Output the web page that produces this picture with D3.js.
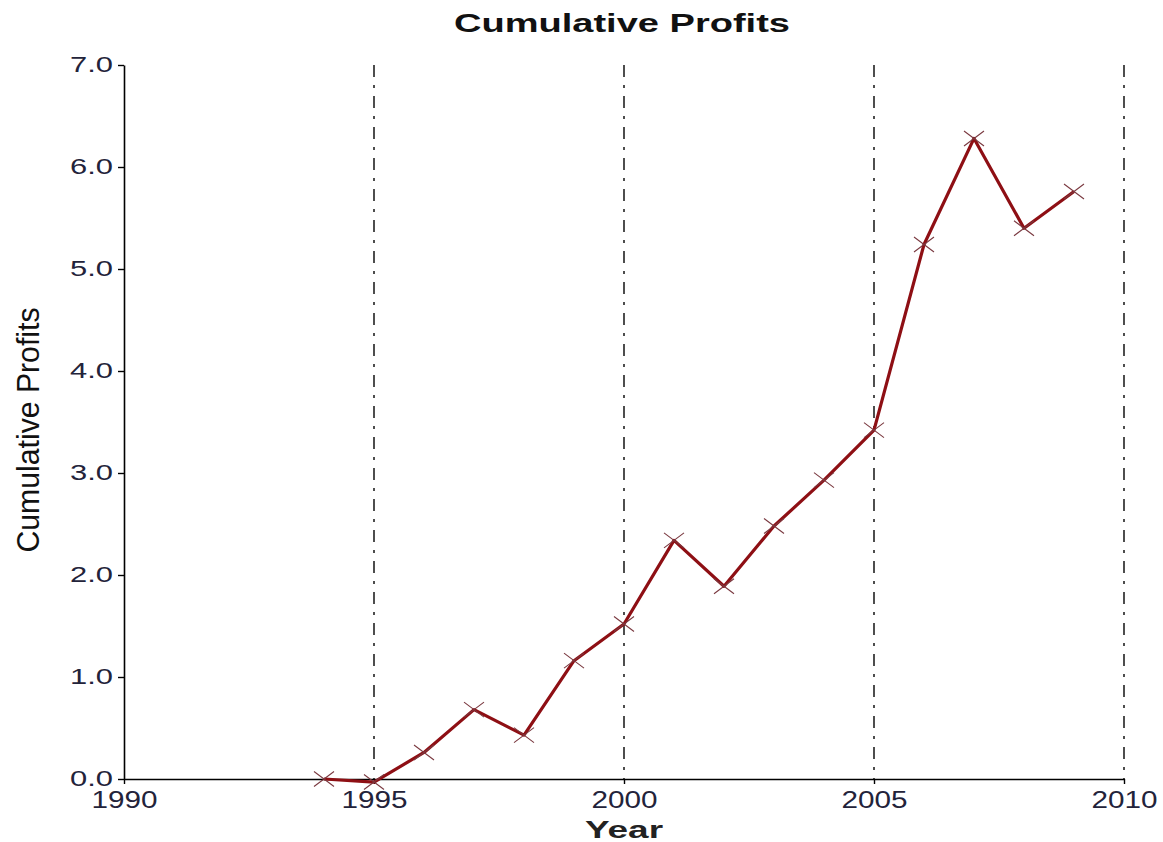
<!DOCTYPE html>
<html><head><meta charset="utf-8">
<script src="https://cdn.jsdelivr.net/npm/d3@7/dist/d3.min.js"></script>
<style>body{margin:0;background:#fff;} svg{display:block;}</style>
</head><body>
<svg id="c" width="1163" height="842"></svg>
<script>
const years = [1994,1995,1996,1997,1998,1999,2000,2001,2002,2003,2004,2005,2006,2007,2008,2009];
const profits = [0.0,-0.03,0.26,0.68,0.43,1.16,1.52,2.34,1.89,2.48,2.93,3.42,5.24,6.28,5.40,5.76];
const xTicks = [1990,1995,2000,2005,2010];
const yTicks = [0,1,2,3,4,5,6,7];
const refYears = [1995,2000,2005,2010];

const svg = d3.select('#c');
const x = d3.scaleLinear().domain([1990,2010]).range([124,1124]);
const y = d3.scaleLinear().domain([0,7]).range([779,65]);
const font = 'Arial, "Liberation Sans", Helvetica, sans-serif';

// reference lines
svg.append('g').selectAll('line').data(refYears).join('line')
  .attr('x1',d=>x(d)).attr('x2',d=>x(d)).attr('y1',y(7)).attr('y2',y(0))
  .attr('stroke','#222').attr('stroke-width',1.6).attr('stroke-dasharray','12,8,3,8');

// axes
const gy = svg.append('g').attr('transform',`translate(${x(1990)},0)`)
  .call(d3.axisLeft(y).tickValues(yTicks).tickFormat(d3.format('.1f')).tickSize(6).tickSizeOuter(0).tickPadding(6));
gy.select('.domain').attr('stroke','#000').attr('stroke-width',1.6);
gy.selectAll('.tick line').attr('stroke','#000').attr('stroke-width',1.4);
gy.selectAll('.tick text').attr('font-family',font).attr('font-size',22).attr('fill','#23233a')
  .attr('textLength',43).attr('lengthAdjust','spacingAndGlyphs').attr('dy','0.3em').attr('x',-11);

const gx = svg.append('g').attr('transform',`translate(0,${y(0)})`)
  .call(d3.axisBottom(x).tickValues(xTicks).tickFormat(d3.format('d')).tickSize(5).tickSizeOuter(0).tickPadding(6));
gx.select('.domain').attr('stroke','#000').attr('stroke-width',1.6);
gx.selectAll('.tick line').attr('stroke','#000').attr('stroke-width',1.4);
gx.selectAll('.tick text').attr('font-family',font).attr('font-size',23).attr('fill','#23233a')
  .attr('textLength',66).attr('lengthAdjust','spacingAndGlyphs').attr('dy','0.6em').attr('y',15);

// line
const line = d3.line().x((d,i)=>x(years[i])).y(d=>y(d));
svg.append('path').datum(profits).attr('d',line).attr('fill','none')
  .attr('stroke','#8e0f14').attr('stroke-width',3.2).attr('stroke-linejoin','round');

// markers (X)
const mk = svg.append('g');
profits.forEach((v,i)=>{
  const cx = x(years[i]), cy = y(v), hw = 10, hh = 7.5;
  mk.append('path').attr('d',`M${cx-hw},${cy-hh}L${cx+hw},${cy+hh}M${cx-hw},${cy+hh}L${cx+hw},${cy-hh}`)
    .attr('stroke','#7a3940').attr('stroke-width',1.1).attr('fill','none');
});

// titles
svg.append('text').attr('x',622).attr('y',32).attr('text-anchor','middle')
  .attr('font-family',font).attr('font-weight','bold').attr('font-size',25).attr('fill','#111')
  .attr('textLength',336).attr('lengthAdjust','spacingAndGlyphs').text('Cumulative Profits');
svg.append('text').attr('x',624).attr('y',838).attr('text-anchor','middle')
  .attr('font-family',font).attr('font-weight','bold').attr('font-size',24).attr('fill','#222')
  .attr('textLength',78).attr('lengthAdjust','spacingAndGlyphs').text('Year');
svg.append('text').attr('transform',`translate(39,430) rotate(-90)`).attr('text-anchor','middle')
  .attr('font-family',font).attr('font-size',31).attr('fill','#111')
  .attr('textLength',245).attr('lengthAdjust','spacingAndGlyphs').text('Cumulative Profits');
</script>
</body></html>
